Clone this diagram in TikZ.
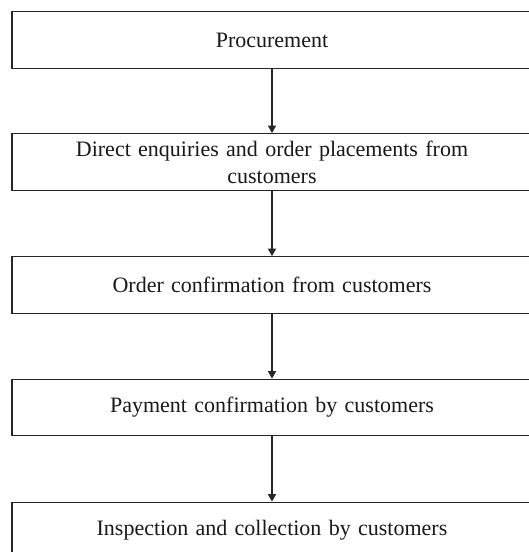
\documentclass[tikz,border=0pt]{standalone}
\usepackage{fontspec}
\setmainfont{Liberation Serif}
\usetikzlibrary{arrows.meta}
\tikzset{
  stepbox/.style={draw=black!85, line width=1.3pt, minimum width=520pt, minimum height=56.5pt,
    inner sep=0pt, text width=440pt, align=center,
    font=\fontsize{22}{27}\selectfont, text=black!90},
  flow/.style={draw=black!85, line width=1.3pt, -{Triangle[length=7.5pt,width=8pt]}}
}
\begin{document}
\begin{tikzpicture}[x=1pt,y=-1pt]
\useasboundingbox (0,0) rectangle (529,552);
\clip (0,0) rectangle (529,552);
\fill[white] (0,0) rectangle (529,552);
\node[stepbox] (b1) at (272,40) {Procurement};
\node[stepbox] (b2) at (272,162) {Direct enquiries and order placements from\\customers};
\node[stepbox] (b3) at (272,285) {Order confirmation from customers};
\node[stepbox] (b4) at (272,407.5) {Payment confirmation by customers};
\node[stepbox] (b5) at (272,530.5) {Inspection and collection by customers};
\draw[flow] (b1) -- (b2);
\draw[flow] (b2) -- (b3);
\draw[flow] (b3) -- (b4);
\draw[flow] (b4) -- (b5);
\end{tikzpicture}
\end{document}
